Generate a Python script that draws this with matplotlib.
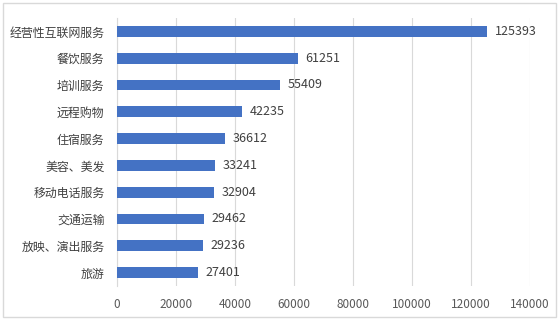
import matplotlib.pyplot as plt
from matplotlib.patches import Rectangle

plt.rcParams['font.family'] = ['Noto Sans CJK SC', 'DejaVu Sans']

categories = ["经营性互联网服务", "餐饮服务", "培训服务", "远程购物", "住宿服务",
              "美容、美发", "移动电话服务", "交通运输", "放映、演出服务", "旅游"]
values = [125393, 61251, 55409, 42235, 36612, 33241, 32904, 29462, 29236, 27401]
xticks = [0, 20000, 40000, 60000, 80000, 100000, 120000, 140000]

W, H = 560, 329
fig = plt.figure(figsize=(W / 100, H / 100), dpi=100)
ax = fig.add_axes([117 / W, 1 - 286 / H, (530 - 117) / W, (286 - 18) / H])

pos = list(range(len(categories)))
ax.barh(pos, values, height=0.4, color="#4472c4", zorder=3)
for y, v in zip(pos, values):
    ax.text(v + 2600, y, str(v), va="center", ha="left", fontsize=9, color="#404040")

ax.set_ylim(len(categories) - 0.5, -0.5)
ax.set_yticks(pos)
ax.set_yticklabels(categories, fontsize=8.6, color="#404040")
ax.set_xlim(0, 140000)
ax.set_xticks(xticks)
ax.set_xticklabels([str(t) for t in xticks], fontsize=8.5, color="#595959")
ax.tick_params(axis="both", length=0)
ax.tick_params(axis="x", pad=9)
ax.tick_params(axis="y", pad=9)

ax.grid(axis="x", color="#d9d9d9", linewidth=0.8, zorder=0)
for side in ["top", "right", "bottom"]:
    ax.spines[side].set_visible(False)
ax.spines["left"].set_color("#d9d9d9")

# light border around the whole chart
fig.patches.append(Rectangle((3 / W, 12 / H), (556 - 3) / W, (317 - 3) / H,
                             transform=fig.transFigure, fill=False,
                             edgecolor="#d9d9d9", linewidth=1))

fig.savefig("out.png", dpi=100)
